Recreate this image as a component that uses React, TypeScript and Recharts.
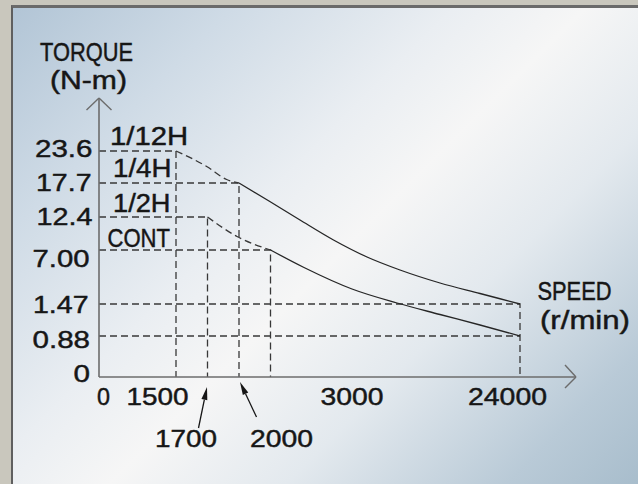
import React from 'react';
import { LineChart, Line, XAxis, YAxis, ReferenceLine } from 'recharts';

// ---- axis categories (schematic, non-linear diagram axes) ----
const speedLabels = ['0', '1500', '1700', '2000', '3000', '24000'];
const speedPos = [0, 77, 108.5, 140, 253, 421];
const torqueLabels = ['0', '0.88', '1.47', '7.00', '12.4', '17.7', '23.6'];
const torquePos = [0, 41, 73, 127, 160, 194, 226];

// ---- curves (schematic speed / torque positions) ----
const dash12H = [
  { x: 77, y: 226 },
  { x: 107.7, y: 210.5 },
  { x: 127.7, y: 197.5 },
  { x: 140, y: 194 },
];
const curve4H = [
  { x: 140, y: 194 },
  { x: 170, y: 176 },
  { x: 201, y: 157 },
  { x: 234.5, y: 137 },
  { x: 268, y: 120 },
  { x: 301, y: 107 },
  { x: 341, y: 94 },
  { x: 381, y: 83.5 },
  { x: 421, y: 73 },
];
const dash2H = [
  { x: 108.5, y: 160 },
  { x: 138, y: 140.5 },
  { x: 171.5, y: 127 },
];
const curveCont = [
  { x: 171.5, y: 127 },
  { x: 205, y: 109.5 },
  { x: 253, y: 88 },
  { x: 298, y: 74 },
  { x: 341, y: 62.5 },
  { x: 381, y: 52 },
  { x: 421, y: 41 },
];

// corners that get dashed guide lines (to both axes)
const guideCorners = [
  { x: 77, y: 226 },
  { x: 140, y: 194 },
  { x: 108.5, y: 160 },
  { x: 171.5, y: 127 },
  { x: 421, y: 73 },
];
const guideHorizontalOnly = [{ x: 421, y: 41 }];

const X_MAX = 477;
const Y_MAX = 279;

const FONT = '"Liberation Sans", Arial, Helvetica, sans-serif';
const INK = '#161616';
const AXIS = '#6c6c6c';
const GUIDE = '#383838';
const TEXT_STROKE = 0.45;

const yTickStyle: Record<string, { left: number; len: number; base: number }> = {
  '23.6': { left: 35, len: 57.5, base: 157 },
  '17.7': { left: 36, len: 55.5, base: 191 },
  '12.4': { left: 36.5, len: 56, base: 225 },
  '7.00': { left: 32.5, len: 57, base: 267 },
  '1.47': { left: 33, len: 55.5, base: 313 },
  '0.88': { left: 32.5, len: 57.5, base: 348 },
  '0': { left: 73.5, len: 16.5, base: 381.5 },
};

const xTickStyle: Record<
  string,
  { dx: number; len: number; base: number; arrow?: { tx: number; ty: number; hx: number; hy: number } }
> = {
  '0': { dx: 4.5, len: 13, base: 405 },
  '1500': { dx: -18.5, len: 62, base: 405 },
  '1700': { dx: -21.5, len: 62, base: 446.5, arrow: { tx: -9, ty: 428, hx: -0.5, hy: 387 } },
  '2000': { dx: 42.5, len: 63, base: 446.5, arrow: { tx: 17.5, ty: 417, hx: 1, hy: 382 } },
  '3000': { dx: 0, len: 63, base: 405 },
  '24000': { dx: -12.5, len: 79, base: 405 },
};

const YTick = (props: any) => {
  const idx = torquePos.indexOf(props.payload.value);
  if (idx < 0) return null;
  const label = torqueLabels[idx];
  const s = yTickStyle[label];
  return (
    <text
      x={s.left}
      y={s.base}
      fontFamily={FONT}
      fontSize={24.5}
      fill={INK}
      stroke={INK}
      strokeWidth={TEXT_STROKE}
      textLength={s.len}
      lengthAdjust="spacingAndGlyphs"
    >
      {label}
    </text>
  );
};

const XTick = (props: any) => {
  const idx = speedPos.indexOf(props.payload.value);
  if (idx < 0) return null;
  const label = speedLabels[idx];
  const s = xTickStyle[label];
  const x0 = props.x;
  let arrow = null;
  if (s.arrow) {
    const tx = x0 + s.arrow.tx;
    const ty = s.arrow.ty;
    const hx = x0 + s.arrow.hx;
    const hy = s.arrow.hy;
    const dx = hx - tx;
    const dy = hy - ty;
    const l = Math.sqrt(dx * dx + dy * dy);
    const ux = dx / l;
    const uy = dy / l;
    const bx = hx - ux * 13;
    const by = hy - uy * 13;
    const px = -uy * 3;
    const py = ux * 3;
    arrow = (
      <g>
        <line x1={tx} y1={ty} x2={bx} y2={by} stroke={INK} strokeWidth={1.3} />
        <polygon points={`${hx},${hy} ${bx + px},${by + py} ${bx - px},${by - py}`} fill={INK} />
      </g>
    );
  }
  return (
    <g>
      {arrow}
      <text
        x={x0 + s.dx}
        y={s.base}
        textAnchor="middle"
        fontFamily={FONT}
        fontSize={24.5}
        fill={INK}
        stroke={INK}
        strokeWidth={TEXT_STROKE}
        textLength={s.len}
        lengthAdjust="spacingAndGlyphs"
      >
        {label}
      </text>
    </g>
  );
};

const guideData = guideCorners.map((c) => [
  { x: 0, y: c.y },
  { x: c.x, y: c.y },
  { x: c.x, y: 0 },
]);
const guideHData = guideHorizontalOnly.map((c) => [
  { x: 0, y: c.y },
  { x: c.x, y: c.y },
]);

const labels = [
  { t: 'TORQUE', x: 40, y: 60.5, len: 93, fs: 25 },
  { t: '(N-m)', x: 50, y: 89, len: 77, fs: 25 },
  { t: '1/12H', x: 110, y: 144.5, len: 78, fs: 25 },
  { t: '1/4H', x: 113, y: 176.5, len: 58.5, fs: 25 },
  { t: '1/2H', x: 113, y: 211.5, len: 57.5, fs: 25 },
  { t: 'CONT', x: 107.5, y: 246.5, len: 62.5, fs: 25 },
  { t: 'SPEED', x: 537.5, y: 299.5, len: 74, fs: 25 },
  { t: '(r/min)', x: 540, y: 328.5, len: 90, fs: 25 },
];

const dashedProps = {
  dataKey: 'y',
  stroke: GUIDE,
  strokeWidth: 1.3,
  strokeDasharray: '7 4',
  dot: false,
  activeDot: false,
  isAnimationActive: false,
};

export default function App() {
  return (
    <div
      style={{
        position: 'absolute',
        left: 0,
        top: 0,
        width: 638,
        height: 484,
        background: '#c9c7bd',
        overflow: 'hidden',
      }}
    >
      <div
        style={{
          position: 'absolute',
          left: 11,
          top: 5,
          right: 0,
          bottom: 0,
          boxSizing: 'border-box',
          borderLeft: '2px solid #5f5f5f',
          borderTop: '3px solid #6a6a6a',
          background:
            'linear-gradient(135deg, #b2c5d6 0%, #cfdbe6 20%, #eaeef2 40%, #f6f6f6 52%, #e3e9ee 68%, #b9cad7 88%, #a8bdcc 100%)',
        }}
      />
      <div style={{ position: 'absolute', left: 0, top: 0 }}>
        <LineChart width={638} height={484} margin={{ top: 98, right: 62, bottom: 77, left: 59 }}>
          <XAxis
            type="number"
            dataKey="x"
            domain={[0, X_MAX]}
            allowDataOverflow
            ticks={speedPos}
            interval={0}
            height={30}
            tickLine={false}
            axisLine={{ stroke: AXIS, strokeWidth: 1.6 }}
            tick={(p: any) => <XTick {...p} />}
          />
          <YAxis
            type="number"
            dataKey="y"
            domain={[0, Y_MAX]}
            allowDataOverflow
            ticks={torquePos}
            interval={0}
            width={40}
            tickLine={false}
            axisLine={{ stroke: AXIS, strokeWidth: 1.6 }}
            tick={(p: any) => <YTick {...p} />}
          />
          {/* axis arrow heads */}
          <ReferenceLine segment={[{ x: -12.5, y: 267 }, { x: 0, y: Y_MAX }]} stroke={AXIS} strokeWidth={1.4} ifOverflow="visible" />
          <ReferenceLine segment={[{ x: 12.5, y: 267 }, { x: 0, y: Y_MAX }]} stroke={AXIS} strokeWidth={1.4} ifOverflow="visible" />
          <ReferenceLine segment={[{ x: 466, y: 12 }, { x: X_MAX, y: 0 }]} stroke={AXIS} strokeWidth={1.4} ifOverflow="visible" />
          <ReferenceLine segment={[{ x: 466, y: -11 }, { x: X_MAX, y: 0 }]} stroke={AXIS} strokeWidth={1.4} ifOverflow="visible" />

          {guideData.map((d, i) => (
            <Line key={'g' + i} data={d} type="linear" {...dashedProps} />
          ))}
          {guideHData.map((d, i) => (
            <Line key={'h' + i} data={d} type="linear" {...dashedProps} />
          ))}
          <Line data={dash12H} type="monotone" {...dashedProps} />
          <Line data={dash2H} type="monotone" {...dashedProps} />
          <Line data={curve4H} dataKey="y" type="monotone" stroke="#262626" strokeWidth={1.3} dot={false} activeDot={false} isAnimationActive={false} />
          <Line data={curveCont} dataKey="y" type="monotone" stroke="#262626" strokeWidth={1.3} dot={false} activeDot={false} isAnimationActive={false} />
        </LineChart>
      </div>
      <svg
        width={638}
        height={484}
        style={{ position: 'absolute', left: 0, top: 0, pointerEvents: 'none' }}
      >
        {labels.map((l) => (
          <text
            key={l.t}
            x={l.x}
            y={l.y}
            fontFamily={FONT}
            fontSize={l.fs}
            fill={INK}
            stroke={INK}
            strokeWidth={TEXT_STROKE}
            textLength={l.len}
            lengthAdjust="spacingAndGlyphs"
          >
            {l.t}
          </text>
        ))}
      </svg>
    </div>
  );
}
